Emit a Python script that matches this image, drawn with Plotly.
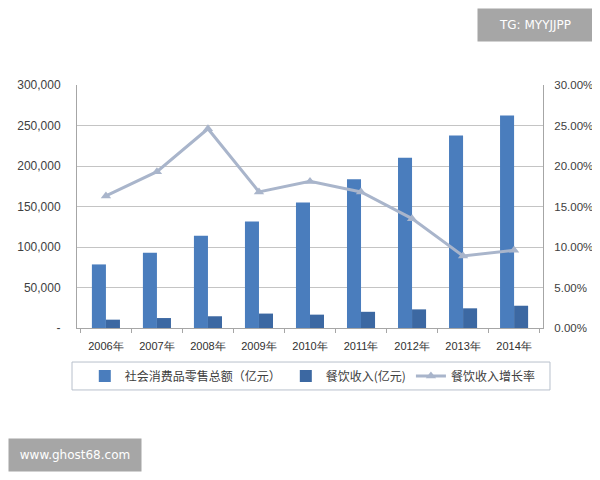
import plotly.graph_objects as go

years = ["2006年", "2007年", "2008年", "2009年", "2010年", "2011年", "2012年", "2013年", "2014年"]
retail_total = [78500, 93000, 114000, 131500, 155000, 183600, 210300, 237800, 262400]
catering_income = [10300, 12300, 14500, 17800, 16500, 20000, 23000, 24300, 27500]
catering_growth = [16.3, 19.3, 24.6, 16.8, 18.1, 16.8, 13.5, 8.9, 9.6]

left_ticks = [0, 50000, 100000, 150000, 200000, 250000, 300000]
left_labels = ["-", "50,000", "100,000", "150,000", "200,000", "250,000", "300,000"]
right_ticks = [0, 5, 10, 15, 20, 25, 30]
right_labels = ["0.00%", "5.00%", "10.00%", "15.00%", "20.00%", "25.00%", "30.00%"]

fig = go.Figure()
fig.add_trace(go.Bar(x=years, y=retail_total, name="社会消费品零售总额（亿元）",
                     marker=dict(color="#4a7dbd", line=dict(width=0))))
fig.add_trace(go.Bar(x=years, y=catering_income, name="餐饮收入(亿元)",
                     marker=dict(color="#3c68a2", line=dict(width=0))))
fig.add_trace(go.Scatter(x=years, y=catering_growth, name="餐饮收入增长率", yaxis="y2",
                         mode="lines+markers",
                         line=dict(color="#a9b5cb", width=3),
                         marker=dict(symbol="triangle-up", size=9, color="#a9b5cb")))

tick_font = dict(family="Liberation Sans, Arial, sans-serif", size=12, color="#404040")
tick_font_r = dict(family="Liberation Sans, Arial, sans-serif", size=11.5, color="#404040")

fig.update_layout(
    width=592, height=472,
    margin=dict(l=69, r=57, t=77, b=152, autoexpand=False),
    paper_bgcolor="white", plot_bgcolor="white",
    barmode="group", bargap=0.45, bargroupgap=0,
    showlegend=True,
    legend=dict(orientation="h", x=0.506, xanchor="center",
                y=-0.1975, yanchor="middle", borderwidth=0, bgcolor="rgba(0,0,0,0)",
                font=dict(family="Noto Sans CJK SC", size=12, color="#404040"),
                traceorder="normal", itemwidth=30),
    xaxis=dict(type="category", showgrid=False, showline=True, linecolor="#a6a6a6",
               ticks="outside", tickson="boundaries", ticklen=4, tickcolor="#a6a6a6",
               ticklabelstandoff=8, automargin=False,
               tickfont=dict(family="Liberation Sans, Arial, sans-serif", size=11, color="#303030")),
    yaxis=dict(range=[0, 300000], tickvals=left_ticks, ticktext=left_labels,
               showgrid=True, gridcolor="#c4c4c4", gridwidth=1,
               showline=True, linecolor="#a6a6a6", ticks="", tickfont=tick_font,
               ticklabelstandoff=13, zeroline=False, automargin=False),
    yaxis2=dict(range=[0, 30], tickvals=right_ticks, ticktext=right_labels,
                overlaying="y", side="right", showgrid=False,
                showline=True, linecolor="#a6a6a6", ticks="", tickfont=tick_font_r,
                ticklabelstandoff=8, zeroline=False, automargin=False),
    shapes=[
        dict(type="rect", xref="paper", yref="paper", x0=-0.0107, x1=1.015,
             y0=-0.255, y1=-0.14, line=dict(color="#b8c0cc", width=1),
             fillcolor="rgba(0,0,0,0)", layer="below"),
    ],
    annotations=[
        dict(text="TG: MYYJJPP", xref="paper", yref="paper", x=0.983, y=1.247,
             xanchor="center", yanchor="middle", showarrow=False,
             bgcolor="#a6a6a6", width=112, height=30,
             font=dict(family="DejaVu Sans", size=12, color="white")),
        dict(text="www.ghost68.com", xref="paper", yref="paper", x=-0.004, y=-0.523,
             xanchor="center", yanchor="middle", showarrow=False,
             bgcolor="#a6a6a6", width=130, height=30,
             font=dict(family="DejaVu Sans", size=12, color="white")),
    ],
)

fig.write_html("out.html")
